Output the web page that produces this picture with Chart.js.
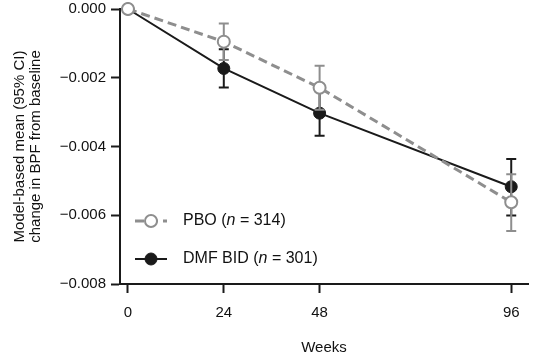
<!DOCTYPE html>
<html>
<head>
<meta charset="utf-8">
<script src="https://cdn.jsdelivr.net/npm/chart.js@4"></script>
<style>
  html, body { margin: 0; padding: 0; background: #fff; }
  #wrap { width: 536px; height: 355px; }
</style>
</head>
<body>
<div id="wrap"><canvas id="myChart"></canvas></div>
<script>
// date
const weeks = [0, 24, 48, 96];
const xTicks = [0, 24, 48, 96];
const yTicks = [0, -0.002, -0.004, -0.006, -0.008];

const seriesNames = ['PBO', 'DMF BID'];
const seriesN = [314, 301];

const pboMean = [0, -0.00095, -0.00229, -0.00562];
const pboLow = [null, -0.00148, -0.00293, -0.00646];
const pboHigh = [null, -0.00042, -0.00165, -0.00481];

const dmfMean = [0, -0.00173, -0.00303, -0.00517];
const dmfLow = [null, -0.00228, -0.00369, -0.00601];
const dmfHigh = [null, -0.00117, -0.00237, -0.00436];

const grey = '#8e8e8e';
const black = '#1a1a1a';
const textColor = '#111';
const fontFam = '"Liberation Sans", Arial, sans-serif';

// bare de eroare, desenate sub fiecare serie
const errorBars = {
  id: 'errorBars',
  beforeDatasetDraw(chart, args) {
    const ds = chart.data.datasets[args.index];
    const x = chart.scales.x, y = chart.scales.y;
    const ctx = chart.ctx;
    ctx.save();
    ctx.strokeStyle = ds.borderColor;
    ctx.lineWidth = 2;
    ctx.setLineDash([]);
    ds.errLow.forEach((lo, i) => {
      const hi = ds.errHigh[i];
      if (lo === null || hi === null) return;
      const px = x.getPixelForValue(weeks[i]);
      const y1 = y.getPixelForValue(lo);
      const y2 = y.getPixelForValue(hi);
      ctx.beginPath();
      ctx.moveTo(px, y1); ctx.lineTo(px, y2);
      ctx.moveTo(px - 5, y1); ctx.lineTo(px + 5, y1);
      ctx.moveTo(px - 5, y2); ctx.lineTo(px + 5, y2);
      ctx.stroke();
    });
    ctx.restore();
  }
};

// legenda cu "n" italic
const customLegend = {
  id: 'customLegend',
  afterDraw(chart) {
    const ctx = chart.ctx;
    const area = chart.chartArea;
    const rows = [area.bottom - 63, area.bottom - 25];
    chart.data.datasets.forEach((ds, i) => {
      const yy = rows[i];
      const x0 = area.left + 15;
      ctx.save();
      ctx.strokeStyle = ds.borderColor;
      ctx.lineWidth = ds.borderWidth;
      ctx.setLineDash(ds.borderDash || []);
      ctx.beginPath();
      ctx.moveTo(x0, yy); ctx.lineTo(x0 + 32, yy);
      ctx.stroke();
      ctx.setLineDash([]);
      ctx.beginPath();
      ctx.arc(x0 + 16, yy, ds.pointRadius, 0, Math.PI * 2);
      ctx.fillStyle = ds.pointBackgroundColor;
      ctx.fill();
      ctx.lineWidth = ds.pointBorderWidth;
      ctx.strokeStyle = ds.borderColor;
      ctx.stroke();

      ctx.fillStyle = textColor;
      ctx.textBaseline = 'middle';
      let tx = x0 + 48;
      const parts = [
        [seriesNames[i] + ' (', 'normal'],
        ['n', 'italic'],
        [' = ' + seriesN[i] + ')', 'normal']
      ];
      parts.forEach(([t, st]) => {
        ctx.font = st + ' 16px ' + fontFam;
        ctx.fillText(t, tx, yy);
        tx += ctx.measureText(t).width;
      });
      ctx.restore();
    });
  }
};

const ctx = document.getElementById('myChart');

new Chart(ctx, {
  type: 'line',
  data: {
    datasets: [
      {
        label: seriesNames[0],
        data: weeks.map((w, i) => ({ x: w, y: pboMean[i] })),
        errLow: pboLow,
        errHigh: pboHigh,
        borderColor: grey,
        borderWidth: 3,
        borderDash: [9, 5],
        pointRadius: 6,
        pointBorderWidth: 2,
        pointBackgroundColor: '#fff',
        pointBorderColor: grey,
        tension: 0,
        clip: false
      },
      {
        label: seriesNames[1],
        data: weeks.map((w, i) => ({ x: w, y: dmfMean[i] })),
        errLow: dmfLow,
        errHigh: dmfHigh,
        borderColor: black,
        borderWidth: 2,
        pointRadius: 6,
        pointBorderWidth: 1,
        pointBackgroundColor: black,
        pointBorderColor: black,
        tension: 0,
        clip: false
      }
    ]
  },
  options: {
    responsive: true,
    maintainAspectRatio: false,
    animation: false,
    layout: { padding: { top: 9, right: 2, left: 0, bottom: 0 } },
    plugins: {
      legend: { display: false },
      tooltip: { enabled: false }
    },
    scales: {
      x: {
        type: 'linear',
        min: -2,
        max: 100.2,
        afterBuildTicks: s => { s.ticks = xTicks.map(v => ({ value: v })); },
        afterFit: s => { s.height = 71; },
        grid: { display: true, drawOnChartArea: false, drawTicks: true, tickLength: 9, tickWidth: 2, tickColor: black },
        border: { display: true, width: 2, color: black },
        ticks: { color: textColor, padding: 11, font: { size: 15, family: fontFam }, maxRotation: 0 },
        title: {
          display: true,
          text: 'Weeks',
          color: textColor,
          font: { size: 15, family: fontFam, lineHeight: 1.0 },
          padding: { top: 0, bottom: 0 }
        }
      },
      y: {
        min: -0.008,
        max: 0,
        afterBuildTicks: s => { s.ticks = yTicks.map(v => ({ value: v })); },
        afterFit: s => { s.width = 120; s.paddingTop = 0; s.paddingBottom = 0; },
        grid: { display: true, drawOnChartArea: false, drawTicks: true, tickLength: 9, tickWidth: 2, tickColor: black },
        border: { display: true, width: 2, color: black },
        ticks: {
          color: textColor,
          padding: 5,
          font: { size: 15, family: fontFam, lineHeight: 0.6 },
          callback: v => (v === 0 ? '0.000' : '\u2212' + Math.abs(v).toFixed(3))
        },
        title: {
          display: true,
          text: ['Model-based mean (95% CI)', 'change in BPF from baseline'],
          color: textColor,
          font: { size: 15, family: fontFam, lineHeight: 1.05 },
          padding: { top: 12, bottom: 0 }
        }
      }
    }
  },
  plugins: [errorBars, customLegend]
});
</script>
</body>
</html>
